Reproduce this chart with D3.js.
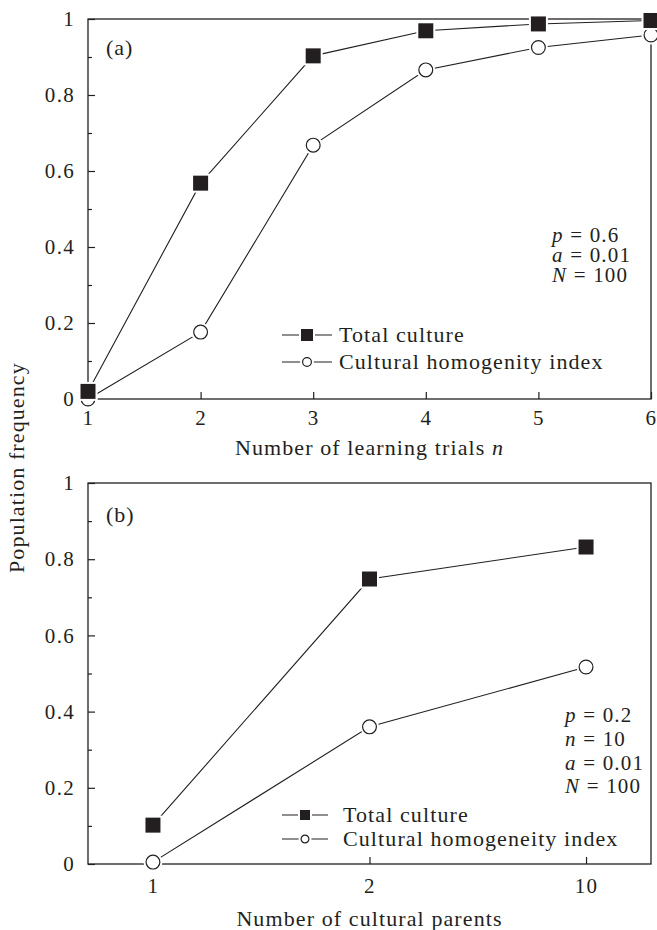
<!DOCTYPE html>
<html>
<head>
<meta charset="utf-8">
<script src="https://cdn.jsdelivr.net/npm/d3@7"></script>
<style>
body { margin: 0; background: #fff; }
text { font-family: "Liberation Serif", "Times New Roman", serif; fill: #231f20; }
</style>
</head>
<body>
<div class="chart"></div>
<script>
// panel (a): number of learning trials
var trials = [1, 2, 3, 4, 5, 6];
var totalA = [0.02, 0.568, 0.903, 0.969, 0.987, 0.996];
var homogA = [0.0, 0.176, 0.668, 0.866, 0.925, 0.958];

// panel (b): number of cultural parents
var parents = ["1", "2", "10"];
var totalB = [0.102, 0.748, 0.832];
var homogB = [0.005, 0.36, 0.517];

var yTicks = [0, 0.2, 0.4, 0.6, 0.8, 1];
var yTickLabels = ["0", "0.2", "0.4", "0.6", "0.8", "1"];
var yMinor = [0.1, 0.3, 0.5, 0.7, 0.9];

var legendA = ["Total culture", "Cultural homogenity index"];
var legendB = ["Total culture", "Cultural homogeneity index"];
var paramsA = [["p", " = 0.6"], ["a", " = 0.01"], ["N", " = 100"]];
var paramsB = [["p", " = 0.2"], ["n", " = 10"], ["a", " = 0.01"], ["N", " = 100"]];

var ink = "#231f20";
var left = 88, right = 651;

var svg = d3.select(".chart").append("svg")
	.attr("width", 657).attr("height", 930);

//draws a marker with a white halo so lines stop short of it
function marker(g, kind, size, cx, cy) {
	var shape = kind == "square" ? d3.symbolSquare : d3.symbolCircle;
	var area = function(s) { return kind == "square" ? s * s : Math.PI * s * s / 4; };
	g.append("path")
		.attr("d", d3.symbol(shape, area(size + 4))())
		.attr("transform", "translate(" + cx + "," + cy + ")")
		.attr("fill", "#fff");
	g.append("path")
		.attr("d", d3.symbol(shape, area(kind == "square" ? size : size - 1.2))())
		.attr("transform", "translate(" + cx + "," + cy + ")")
		.attr("fill", kind == "square" ? ink : "#fff")
		.attr("stroke", kind == "square" ? "none" : ink)
		.attr("stroke-width", 1.2);
}

function panel(opt) {
	var g = svg.append("g");
	var y = d3.scaleLinear().domain([0, 1]).range([opt.bottom, opt.top]);
	var x = opt.x;

	//frame
	g.append("rect")
		.attr("x", left).attr("y", opt.top)
		.attr("width", right - left).attr("height", opt.bottom - opt.top)
		.attr("fill", "none").attr("stroke", ink).attr("stroke-width", 1.3);

	//y axis, ticks pointing inward
	var yAxis = d3.axisLeft(y).tickValues(yTicks).tickSize(-7).tickPadding(13)
		.tickFormat(function(d, i) { return yTickLabels[i]; });
	var yg = g.append("g").attr("transform", "translate(" + left + ",0)").call(yAxis);
	var yMinorAxis = d3.axisLeft(y).tickValues(yMinor).tickSize(-4).tickFormat("");
	var ymg = g.append("g").attr("transform", "translate(" + left + ",0)").call(yMinorAxis);

	var xAxis = d3.axisBottom(x).tickSize(-7).tickPadding(opt.xPad);
	if (opt.xValues) xAxis.tickValues(opt.xValues).tickFormat(d3.format("d"));
	var xg = g.append("g").attr("transform", "translate(0," + opt.bottom + ")").call(xAxis);

	[yg, ymg, xg].forEach(function(a) {
		a.select(".domain").remove();
		a.selectAll("line").attr("stroke", ink).attr("stroke-width", 1.2);
		a.selectAll("text").attr("fill", ink)
			.style("font-family", "'Liberation Serif', serif")
			.style("font-size", "21px").style("letter-spacing", "1.3px");
	});

	//series lines
	var line = d3.line()
		.x(function(d) { return x(d[0]); })
		.y(function(d) { return y(d[1]); });
	[opt.total, opt.homog].forEach(function(vals) {
		g.append("path")
			.datum(opt.cats.map(function(c, i) { return [c, vals[i]]; }))
			.attr("d", line)
			.attr("fill", "none").attr("stroke", ink).attr("stroke-width", 1.1);
	});
	opt.cats.forEach(function(c, i) {
		marker(g, "circle", 15, x(c), y(opt.homog[i]));
	});
	opt.cats.forEach(function(c, i) {
		marker(g, "square", 15, x(c), y(opt.total[i]));
	});

	//panel tag
	g.append("text").attr("x", 106).attr("y", opt.tagY)
		.style("font-size", "22px").style("letter-spacing", "1px").text(opt.tag);

	//legend
	opt.legend.forEach(function(name, i) {
		var ly = opt.legendY[i];
		g.append("line").attr("x1", 282).attr("x2", opt.legendX2)
			.attr("y1", ly).attr("y2", ly).attr("stroke", ink).attr("stroke-width", 1.1);
		marker(g, i == 0 ? "square" : "circle", i == 0 ? opt.legendSq : opt.legendCi, opt.legendMx, ly);
		g.append("text").attr("x", opt.legendTx).attr("y", ly).attr("dy", "0.32em")
			.style("font-size", "22px").style("letter-spacing", "1.1px").text(name);
	});

	//parameters
	opt.params.forEach(function(p, i) {
		var t = g.append("text").attr("x", opt.paramX).attr("y", opt.paramY[i])
			.style("font-size", "21px").style("letter-spacing", "1.2px");
		t.append("tspan").style("font-style", "italic").text(p[0]);
		t.append("tspan").text(p[1]);
	});

	//x title
	var tt = g.append("text").attr("x", (left + right) / 2).attr("y", opt.titleY)
		.attr("text-anchor", "middle")
		.style("font-size", "22px").style("letter-spacing", "1.1px");
	tt.append("tspan").text(opt.title);
	if (opt.titleIt) tt.append("tspan").style("font-style", "italic").text(opt.titleIt);
}

panel({
	top: 19, bottom: 399,
	x: d3.scaleLinear().domain([1, 6]).range([left, right]),
	xValues: trials, xPad: 11,
	cats: trials, total: totalA, homog: homogA,
	tag: "(a)", tagY: 55,
	legend: legendA, legendY: [335, 362], legendX2: 332, legendMx: 307, legendTx: 339,
	legendSq: 12, legendCi: 10,
	params: paramsA, paramX: 552, paramY: [242, 262, 282],
	title: "Number of learning trials ", titleIt: "n", titleY: 455
});

panel({
	top: 483, bottom: 864,
	x: d3.scalePoint().domain(parents).range([left, right]).padding(0.3),
	xPad: 14,
	cats: parents, total: totalB, homog: homogB,
	tag: "(b)", tagY: 522,
	legend: legendB, legendY: [815, 839], legendX2: 328, legendMx: 305, legendTx: 343,
	legendSq: 10, legendCi: 9,
	params: paramsB, paramX: 565, paramY: [722, 746, 770, 793],
	title: "Number of cultural parents", titleY: 926
});

//shared y title
svg.append("text")
	.attr("transform", "translate(24,573) rotate(-90)")
	.style("font-size", "22px").style("letter-spacing", "1.1px")
	.text("Population frequency");
</script>
</body>
</html>
